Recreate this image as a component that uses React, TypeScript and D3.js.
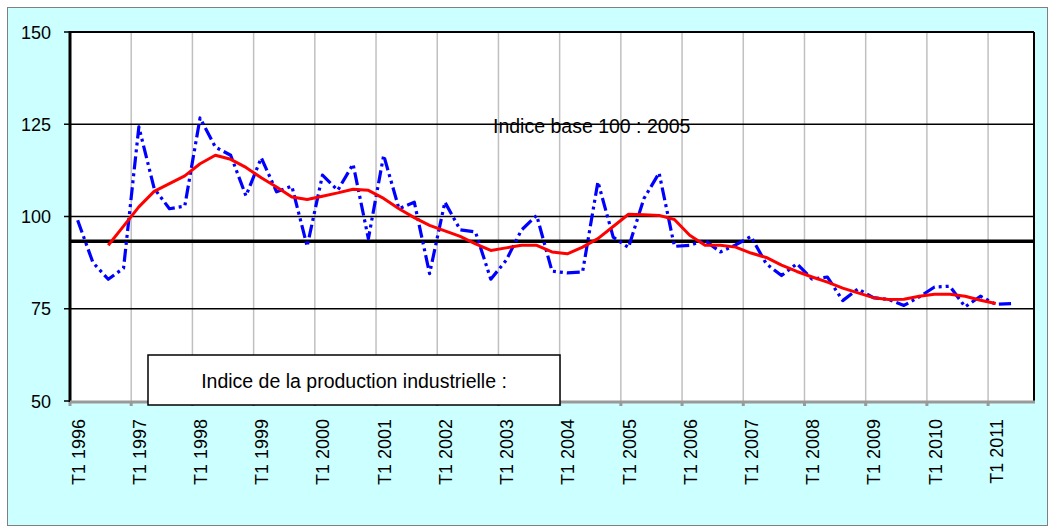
import React, { useEffect, useRef } from "react";
import * as d3 from "d3";

const years = ["1996","1997","1998","1999","2000","2001","2002","2003","2004","2005","2006","2007","2008","2009","2010","2011"];
const quarters = ["T1","T2","T3","T4"];
const categories: string[] = years.flatMap((y) => quarters.map((q) => `${q} ${y}`)).slice(0, 63);

const indexValues: number[] = [
  99.0, 87.5, 83.0, 86.0, 124.3, 107.6, 102.1, 102.8,
  126.7, 118.8, 116.6, 105.6, 115.9, 106.7, 108.2, 91.9,
  111.2, 107.1, 114.2, 94.0, 116.6, 102.1, 103.9, 84.5,
  103.9, 96.4, 95.8, 83.0, 88.1, 96.3, 100.3, 85.2,
  84.7, 85.0, 109.4, 94.4, 91.6, 104.8, 111.8, 91.9,
  92.2, 93.5, 90.4, 92.3, 94.6, 87.2, 84.0, 87.2,
  83.0, 83.6, 77.2, 80.4, 78.0, 77.5, 75.9, 78.2,
  80.9, 81.1, 75.5, 78.4, 76.2, 76.4,
];

const trendValues: (number | null)[] = [
  null, null, 92.2, 97.4, 102.6, 106.8, 108.9, 111.0,
  114.3, 116.6, 115.5, 113.3, 110.5, 108.0, 105.3, 104.6,
  105.5, 106.4, 107.4, 107.1, 104.9, 102.1, 99.7, 97.6,
  96.1, 94.6, 92.6, 90.8, 91.5, 92.2, 92.2, 90.4,
  89.9, 91.7, 94.0, 97.3, 100.6, 100.5, 100.3, 99.2,
  94.9, 92.2, 92.2, 91.7, 90.1, 88.9, 86.8, 85.1,
  83.6, 82.2, 80.6, 79.3, 78.0, 77.5, 77.6, 78.4,
  78.9, 78.9, 78.4, 77.3, 76.4,
];

const referenceLevel = 93.3;
const yTicks = [50, 75, 100, 125, 150];
const gridValues = [75, 100, 125];
const titleText = "Indice base 100 : 2005";
const legendText = "Indice de la production industrielle :";

export default function App() {
  const ref = useRef<SVGSVGElement>(null);

  useEffect(() => {
    const svg = d3.select(ref.current);
    svg.selectAll("*").remove();
    const left = 70, right = 1034, top = 32, bottom = 401;
    const font = "'Liberation Sans', Arial, sans-serif";
    const fs = 18;
    const fsText = 19.5;

    svg.append("rect").attr("x", 7.5).attr("y", 7.5).attr("width", 1040).attr("height", 518)
      .attr("fill", "#CCFFFF").attr("stroke", "#808080").attr("stroke-width", 1);

    const x = d3.scaleBand<string>().domain(categories).range([left, right]).paddingInner(0).paddingOuter(0);
    const y = d3.scaleLinear().domain([50, 150]).range([bottom, top]);
    const cx = (i: number) => (x(categories[i]) as number) + x.bandwidth() / 2;

    svg.append("rect").attr("x", left).attr("y", top).attr("width", right - left).attr("height", bottom - top)
      .attr("fill", "#ffffff");

    const yearStarts = categories.filter((c, i) => i % 4 === 0 && i > 0);
    svg.append("g").selectAll("line").data(yearStarts).join("line")
      .attr("x1", (d) => x(d) as number).attr("x2", (d) => x(d) as number)
      .attr("y1", top).attr("y2", bottom)
      .attr("stroke", "#c0c0c0").attr("stroke-width", 1.5);

    svg.append("g").selectAll("line").data(gridValues).join("line")
      .attr("x1", left).attr("x2", right).attr("y1", (d) => y(d)).attr("y2", (d) => y(d))
      .attr("stroke", "#000").attr("stroke-width", 1.5);

    svg.append("line").attr("x1", left).attr("x2", right).attr("y1", top).attr("y2", top).attr("stroke", "#000").attr("stroke-width", 2);
    svg.append("line").attr("x1", right).attr("x2", right).attr("y1", top).attr("y2", bottom).attr("stroke", "#000").attr("stroke-width", 2);

    svg.append("line").attr("x1", left).attr("x2", right)
      .attr("y1", y(referenceLevel)).attr("y2", y(referenceLevel))
      .attr("stroke", "#000").attr("stroke-width", 3.5);

    svg.append("text").attr("x", 493).attr("y", 133).attr("font-family", font).attr("font-size", fsText)
      .attr("fill", "#000").text(titleText);

    const line = d3.line<number>().x((_, i) => cx(i)).y((d) => y(d));
    svg.append("path").attr("d", line(indexValues) as string)
      .attr("fill", "none").attr("stroke", "#0000FF").attr("stroke-width", 3.2)
      .attr("stroke-dasharray", "13,4,3,4,3,4").attr("stroke-linejoin", "round");

    const trendLine = d3.line<number | null>()
      .defined((d) => d !== null)
      .x((_, i) => cx(i)).y((d) => y(d as number));
    svg.append("path").attr("d", trendLine(trendValues) as string)
      .attr("fill", "none").attr("stroke", "#FF0000").attr("stroke-width", 3)
      .attr("stroke-linejoin", "round");

    svg.append("line").attr("x1", left).attr("x2", left).attr("y1", top - 1).attr("y2", bottom + 1)
      .attr("stroke", "#000").attr("stroke-width", 3);
    svg.append("g").selectAll("line").data(yTicks).join("line")
      .attr("x1", left - 6).attr("x2", left).attr("y1", (d) => y(d)).attr("y2", (d) => y(d))
      .attr("stroke", "#000").attr("stroke-width", 1.5);
    svg.append("g").selectAll("text").data(yTicks).join("text")
      .attr("x", 51).attr("y", (d) => y(d) + 6.5).attr("text-anchor", "end")
      .attr("font-family", font).attr("font-size", fs).attr("fill", "#000").text((d) => d);

    svg.append("line").attr("x1", left).attr("x2", right + 1).attr("y1", bottom + 1).attr("y2", bottom + 1)
      .attr("stroke", "#999999").attr("stroke-width", 3);
    const tickCats = categories.filter((_, i) => i % 4 === 0);
    svg.append("g").selectAll("line").data(tickCats).join("line")
      .attr("x1", (d) => x(d) as number).attr("x2", (d) => x(d) as number)
      .attr("y1", bottom + 1).attr("y2", bottom + 5)
      .attr("stroke", "#999999").attr("stroke-width", 3);
    svg.append("g").selectAll("text").data(tickCats).join("text")
      .attr("transform", (d) => `translate(${(x(d) as number) + x.bandwidth() / 2 + 7},${419}) rotate(-90)`)
      .attr("text-anchor", "end")
      .attr("font-family", font).attr("font-size", fs).attr("fill", "#000").text((d) => d);

    svg.append("rect").attr("x", 148).attr("y", 355).attr("width", 412).attr("height", 50)
      .attr("fill", "#fff").attr("stroke", "#000").attr("stroke-width", 1.5);
    svg.append("text").attr("x", 354).attr("y", 388).attr("text-anchor", "middle")
      .attr("font-family", font).attr("font-size", fsText).attr("fill", "#000").text(legendText);
  }, []);

  return (
    <svg ref={ref} width={1051} height={531}
      style={{ position: "absolute", left: 0, top: 0, display: "block" }} />
  );
}
